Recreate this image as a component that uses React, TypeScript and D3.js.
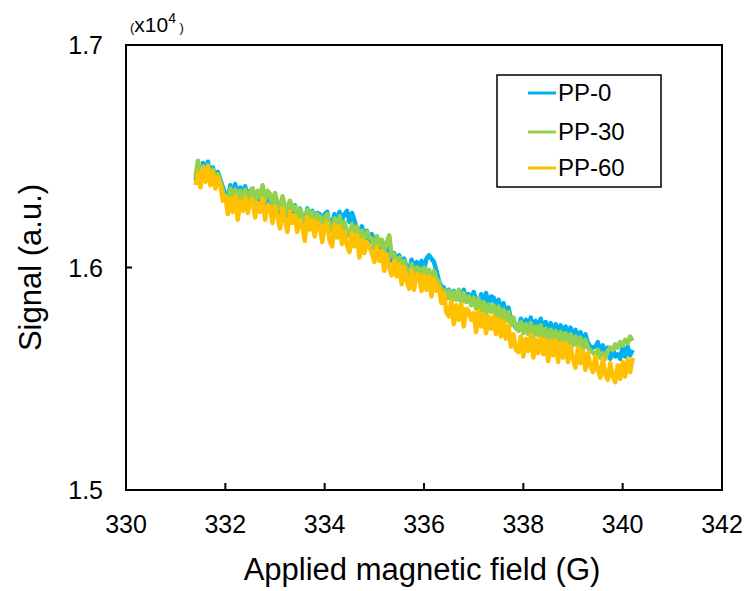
import React from "react";
import * as d3 from "d3";

// Sampling grid of the field sweep (G)
const FIELD_START = 331.4;
const FIELD_STEP = 0.05;

const xTicks = [330, 332, 334, 336, 338, 340, 342];
const yTicks = [15000, 16000, 17000];
const yTickLabels = ["1.5", "1.6", "1.7"];

const seriesNames = ["PP-0", "PP-30", "PP-60"];
const seriesColors = ["#00B0F0", "#92D050", "#FFC000"];

const pp0 = [
  16390, 16440, 16385, 16470, 16410, 16475, 16400, 16450, 16390, 16430,
  16395, 16360, 16330, 16305, 16370, 16320, 16375, 16295, 16360, 16315,
  16365, 16300, 16345, 16355, 16290, 16340, 16300, 16360, 16275, 16325,
  16315, 16260, 16320, 16270, 16240, 16305, 16260, 16225, 16295, 16250,
  16280, 16215, 16265, 16230, 16195, 16265, 16215, 16255, 16200, 16245,
  16240, 16180, 16240, 16250, 16190, 16200, 16240, 16205, 16250, 16215,
  16240, 16255, 16205, 16245, 16210, 16170, 16140, 16185, 16130, 16165,
  16115, 16150, 16090, 16140, 16085, 16120, 16060, 16100, 16050, 16030,
  16065, 16020, 16055, 15995, 16040, 16000, 15985, 16035, 15980, 16025,
  15995, 16030, 15990, 16040, 16055, 16040, 16025, 15985, 15940, 15915,
  15910, 15865, 15900, 15850, 15895, 15860, 15890, 15845, 15900, 15855,
  15880, 15840, 15890, 15850, 15835, 15880, 15840, 15885, 15830, 15870,
  15865, 15820, 15855, 15805, 15840, 15790, 15820, 15765, 15745, 15730,
  15725, 15770, 15720, 15765, 15730, 15775, 15715, 15760, 15725, 15770,
  15720, 15755, 15705, 15750, 15710, 15745, 15695, 15740, 15700, 15735,
  15690, 15730, 15680, 15720, 15675, 15710, 15655, 15700, 15660, 15645,
  15640, 15645, 15665, 15610, 15650, 15605, 15640, 15590, 15635, 15600,
  15610, 15590, 15640, 15600, 15645, 15605, 15630,
];

const pp30 = [
  16410, 16480, 16395, 16455, 16400, 16460, 16385, 16440, 16375, 16420,
  16380, 16345, 16310, 16290, 16355, 16305, 16350, 16285, 16345, 16305,
  16350, 16295, 16340, 16355, 16290, 16345, 16315, 16370, 16300, 16345,
  16330, 16280, 16335, 16290, 16260, 16320, 16275, 16245, 16300, 16260,
  16275, 16225, 16265, 16230, 16195, 16260, 16215, 16250, 16190, 16240,
  16230, 16175, 16225, 16240, 16185, 16165, 16220, 16185, 16230, 16170,
  16205, 16160, 16140, 16195, 16150, 16185, 16110, 16165, 16125, 16160,
  16135, 16130, 16095, 16140, 16100, 16125, 16070, 16115, 16145, 16050,
  16060, 16010, 16045, 15980, 16030, 15985, 15965, 16015, 15955, 16000,
  15995, 15950, 16000, 15955, 15990, 15945, 15985, 15950, 15935, 15895,
  15900, 15860, 15895, 15850, 15890, 15855, 15900, 15840, 15885, 15845,
  15870, 15830, 15865, 15815, 15860, 15805, 15845, 15790, 15835, 15800,
  15830, 15780, 15825, 15770, 15810, 15760, 15800, 15740, 15775, 15730,
  15715, 15755, 15705, 15745, 15700, 15750, 15690, 15735, 15695, 15740,
  15690, 15725, 15675, 15720, 15680, 15715, 15665, 15710, 15670, 15705,
  15660, 15700, 15650, 15690, 15645, 15685, 15630, 15675, 15640, 15625,
  15620, 15605, 15630, 15595, 15615, 15590, 15625, 15640, 15630, 15655,
  15640, 15665, 15650, 15675, 15660, 15690, 15670,
];

const pp60 = [
  16370, 16425, 16360, 16445, 16385, 16450, 16370, 16430, 16355, 16405,
  16375, 16300, 16320, 16240, 16310, 16250, 16320, 16215, 16300, 16255,
  16315, 16245, 16300, 16305, 16225, 16290, 16250, 16310, 16215, 16280,
  16270, 16200, 16275, 16230, 16175, 16265, 16215, 16160, 16250, 16200,
  16235, 16160, 16215, 16185, 16120, 16225, 16170, 16215, 16140, 16205,
  16190, 16115, 16185, 16200, 16120, 16095, 16190, 16135, 16185, 16105,
  16160, 16100, 16070, 16155, 16095, 16145, 16045, 16125, 16065, 16115,
  16095, 16065, 16025, 16095, 16030, 16075, 15985, 16060, 16000, 15965,
  16030, 15960, 16015, 15925, 16000, 15940, 15905, 15985, 15900, 15970,
  15965, 15895, 15965, 15900, 15960, 15870, 15950, 15895, 15915, 15840,
  15885, 15800, 15780, 15850, 15745, 15830, 15765, 15835, 15735, 15815,
  15805, 15765, 15795, 15710, 15805, 15735, 15790, 15705, 15780, 15725,
  15780, 15700, 15770, 15690, 15760, 15680, 15740, 15645, 15700, 15630,
  15620, 15690, 15600, 15680, 15625, 15695, 15595, 15675, 15615, 15685,
  15610, 15675, 15580, 15665, 15605, 15675, 15575, 15660, 15595, 15660,
  15575, 15645, 15590, 15550, 15640, 15570, 15625, 15540, 15615, 15560,
  15530, 15600, 15540, 15505, 15590, 15520, 15495, 15570, 15510, 15485,
  15560, 15500, 15575, 15510, 15585, 15530, 15595,
];

const allSeries = [pp0, pp30, pp60];

const W = 747;
const H = 591;
const M = { left: 126, right: 722, top: 45, bottom: 490 };
const FONT = "Arial, 'Liberation Sans', sans-serif";

export default function App() {
  const x = d3.scaleLinear().domain([330, 342]).range([M.left, M.right]);
  const y = d3.scaleLinear().domain([15000, 17000]).range([M.bottom, M.top]);
  const line = d3
    .line<number>()
    .x((_, i) => x(FIELD_START + i * FIELD_STEP))
    .y((d) => y(d));

  const legendX = 497;
  const legendY = 75;
  const legendRows = [93, 132, 168];

  return (
    <svg
      width={W}
      height={H}
      style={{ position: "absolute", left: 0, top: 0, background: "#fff" }}
      fontFamily={FONT}
    >
      <rect x={0} y={0} width={W} height={H} fill="#fff" />
      {allSeries.map((s, k) => (
        <path
          key={seriesNames[k]}
          d={line(s) || ""}
          fill="none"
          stroke={seriesColors[k]}
          strokeWidth={4.5}
          strokeLinejoin="round"
        />
      ))}
      <rect
        x={M.left}
        y={M.top}
        width={M.right - M.left}
        height={M.bottom - M.top}
        fill="none"
        stroke="#000"
        strokeWidth={2}
      />
      {xTicks.map((t) => (
        <g key={t}>
          {t > 330 && t < 342 && (
            <line x1={x(t)} x2={x(t)} y1={M.bottom} y2={M.bottom - 7} stroke="#000" strokeWidth={2} />
          )}
          <text x={x(t)} y={533} textAnchor="middle" fontSize={25} fill="#000">
            {t}
          </text>
        </g>
      ))}
      {yTicks.map((t, i) => (
        <g key={t}>
          {i === 1 && (
            <line x1={M.left} x2={M.left + 6} y1={y(t)} y2={y(t)} stroke="#000" strokeWidth={2} />
          )}
          <text x={103} y={y(t) + 9} textAnchor="end" fontSize={25} fill="#000">
            {yTickLabels[i]}
          </text>
        </g>
      ))}
      <text x={130} y={32} fontSize={13} fill="#000">
        (
        <tspan fontSize={21}>x10</tspan>
        <tspan fontSize={14} dy={-9}>4</tspan>
        <tspan fontSize={13} dy={9}> )</tspan>
      </text>
      <text x={422} y={580} textAnchor="middle" fontSize={31} fill="#000">
        Applied magnetic field (G)
      </text>
      <text
        transform={`translate(41,${(M.top + M.bottom) / 2}) rotate(-90)`}
        textAnchor="middle"
        fontSize={31}
        fill="#000"
      >
        Signal (a.u.)
      </text>
      <rect
        x={legendX}
        y={legendY}
        width={164}
        height={112}
        fill="#fff"
        stroke="#000"
        strokeWidth={1.5}
      />
      {seriesNames.map((n, k) => (
        <g key={n}>
          <line
            x1={528}
            x2={556}
            y1={legendRows[k]}
            y2={legendRows[k]}
            stroke={seriesColors[k]}
            strokeWidth={3}
          />
          <text x={558} y={legendRows[k] + 8} fontSize={24} fill="#000">
            {n}
          </text>
        </g>
      ))}
    </svg>
  );
}
